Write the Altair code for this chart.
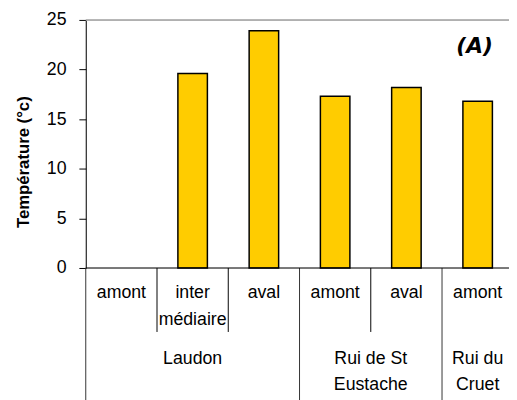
import altair as alt
import pandas as pd

# ---- data ----
groups = ["Laudon", "Rui de St\nEustache", "Rui du\nCruet"]
group_sizes = [3, 2, 1]
sites = ["amont", "inter\nmédiaire", "aval", "amont", "aval", "amont"]
temps = [None, 19.6, 23.9, 17.3, 18.2, 16.8]
y_ticks = [0, 5, 10, 15, 20, 25]
panel_label = "(A)"
y_title = "Température (°c)"

W, H = 430, 252
FONT = "Liberation Sans"
X_MAX = 5.94
BAR_HALF = 0.207

# ---- derived tables ----
rows = []
for i, (s, t) in enumerate(zip(sites, temps)):
    rows.append({"i": i, "site": s, "temp": t,
                 "x0": i + 0.5 - BAR_HALF, "x1": i + 0.5 + BAR_HALF, "xc": i + 0.5})
df = pd.DataFrame(rows)
bars_df = df.dropna(subset=["temp"])

starts = [sum(group_sizes[:k]) for k in range(len(group_sizes))]
grp_df = pd.DataFrame({"group": groups,
                       "xc": [s + n / 2 for s, n in zip(starts, group_sizes)]})

long_b = [s for s in starts]
short_b = [i for i in range(1, len(sites)) if i not in long_b]
sep_long = pd.DataFrame({"b": long_b})
sep_short = pd.DataFrame({"b": short_b})

xscale = alt.Scale(domain=[0, X_MAX], nice=False, zero=False)
yscale = alt.Scale(domain=[0, 25], nice=False)

bars = alt.Chart(bars_df).mark_bar(
    color="#FFCC00", stroke="#000000", strokeWidth=1.5
).encode(
    x=alt.X("x0:Q", scale=xscale, axis=None),
    x2="x1:Q",
    y=alt.Y("temp:Q", scale=yscale,
            axis=alt.Axis(values=y_ticks, title=y_title, grid=False,
                          domainColor="#000000", tickColor="#000000",
                          tickSize=7, labelPadding=13, labelFont=FONT,
                          labelFontSize=18, labelColor="#000000",
                          titleFont=FONT, titleFontSize=17, titleFontWeight="bold",
                          titleColor="#000000", titleAngle=270, titleX=-63,
                          titleY=144, titleAlign="center", titleBaseline="middle")),
    y2=alt.datum(0),
)

top_line = alt.Chart(pd.DataFrame({"a": [0]})).mark_rule(
    color="#a0a0a0", strokeWidth=1.5
).encode(x=alt.value(0), x2=alt.value(W), y=alt.value(0))

bottom_line = alt.Chart(pd.DataFrame({"a": [0]})).mark_rule(
    color="#000000", strokeWidth=1
).encode(x=alt.value(0), x2=alt.value(W), y=alt.value(H))

short_rules = alt.Chart(sep_short).mark_rule(color="#000000", strokeWidth=1).encode(
    x=alt.X("b:Q", scale=xscale), y=alt.value(H), y2=alt.value(H + 65)
)
long_rules = alt.Chart(sep_long).mark_rule(color="#333333", strokeWidth=1).encode(
    x=alt.X("b:Q", scale=xscale), y=alt.value(H), y2=alt.value(H + 140)
)

site_text = alt.Chart(df).mark_text(
    font=FONT, fontSize=18, color="#000000", lineBreak="\n", lineHeight=28,
    baseline="alphabetic", align="center"
).encode(x=alt.X("xc:Q", scale=xscale), y=alt.value(H + 30), text="site:N")

grp_text = alt.Chart(grp_df).mark_text(
    font=FONT, fontSize=18, color="#000000", lineBreak="\n", lineHeight=26,
    baseline="alphabetic", align="center"
).encode(x=alt.X("xc:Q", scale=xscale), y=alt.value(H + 98), text="group:N")

label = alt.Chart(pd.DataFrame({"t": [panel_label]})).mark_text(
    font="DejaVu Sans", fontSize=22, fontWeight="bold", fontStyle="italic",
    color="#000000", align="center", baseline="middle"
).encode(x=alt.value(W - 35), y=alt.value(27), text="t:N")

chart = alt.layer(
    bars, top_line, short_rules, long_rules, bottom_line, site_text, grp_text, label
).properties(
    width=W, height=H,
    autosize=alt.AutoSizeParams(type="none"),
    padding={"left": 79, "top": 9, "right": 0, "bottom": 131},
).configure_view(stroke=None).configure(background="white")

chart.save("out.html", embed_options={"renderer": "svg", "actions": False})
